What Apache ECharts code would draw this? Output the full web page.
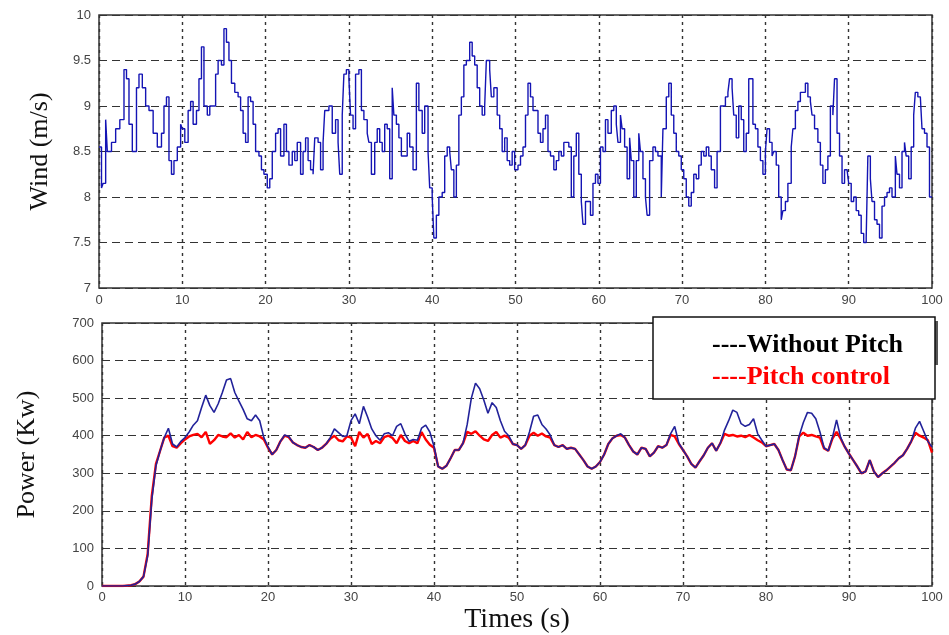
<!DOCTYPE html>
<html>
<head>
<meta charset="utf-8">
<script src="https://cdn.jsdelivr.net/npm/echarts@6/dist/echarts.min.js"></script>
<style>
  * { margin: 0; padding: 0; }
  body { background: #fff; }
  #chart { width: 949px; height: 635px; }
</style>
</head>
<body>
<div id="chart"></div>
<script>
// wind speed (m/s), [time s, value]
const windData = [
  [0, 8.55], [0.3, 8.1], [0.5, 8.15], [0.8, 8.85], [1.0, 8.5], [1.5, 8.6], [2.0, 8.75], [2.5, 8.85], [3.0, 9.4], [3.3, 9.3],
  [3.6, 8.8], [4.0, 8.5], [4.5, 9.2], [4.8, 9.35], [5.2, 9.2], [5.6, 9.0], [6.0, 8.95], [6.5, 8.7], [7.0, 8.55], [7.5, 8.7],
  [7.8, 9.0], [8.1, 9.1], [8.4, 8.4], [8.7, 8.25], [9.0, 8.4], [9.4, 8.55], [9.8, 8.8], [10.0, 8.75], [10.3, 8.6], [10.7, 8.95],
  [11.0, 9.05], [11.3, 8.8], [11.7, 8.95], [12.0, 9.3], [12.3, 9.65], [12.6, 9.0], [13.0, 8.9], [13.3, 9.0], [13.7, 9.0], [14.0, 9.35],
  [14.3, 9.5], [14.7, 9.45], [15.0, 9.85], [15.3, 9.7], [15.6, 9.5], [15.9, 9.25], [16.3, 9.15], [16.7, 9.1], [17.0, 8.95], [17.3, 8.7],
  [17.6, 8.6], [17.9, 9.1], [18.2, 9.05], [18.5, 8.8], [18.8, 8.5], [19.2, 8.45], [19.5, 8.3], [19.8, 8.25], [20.2, 8.1], [20.5, 8.2],
  [20.8, 8.5], [21.2, 8.7], [21.5, 8.75], [21.8, 8.45], [22.2, 8.8], [22.5, 8.5], [22.8, 8.35], [23.2, 8.5], [23.5, 8.4], [23.8, 8.6],
  [24.2, 8.25], [24.5, 8.5], [24.8, 8.65], [25.1, 8.4], [25.4, 8.3], [25.7, 8.25], [25.9, 8.65], [26.3, 8.6], [26.6, 8.3], [26.9, 8.6],
  [27.1, 8.95], [27.6, 9.0], [28.0, 8.7], [28.4, 8.85], [28.7, 8.6], [28.9, 8.25], [29.2, 8.9], [29.4, 9.35], [29.7, 9.4], [30.0, 9.3],
  [30.2, 8.9], [30.5, 8.75], [30.8, 9.35], [31.2, 9.4], [31.5, 8.95], [31.8, 8.85], [32.2, 8.7], [32.4, 8.6], [32.7, 8.25], [33.1, 8.6],
  [33.4, 8.75], [33.7, 8.6], [34.0, 8.5], [34.3, 8.8], [34.6, 8.75], [34.9, 8.2], [35.2, 9.2], [35.4, 8.9], [35.7, 8.8], [36.0, 8.65],
  [36.3, 8.45], [36.7, 8.45], [37.0, 8.7], [37.3, 8.55], [37.7, 8.3], [38.1, 9.25], [38.4, 8.95], [38.8, 8.7], [39.1, 9.0], [39.5, 8.5],
  [39.7, 8.1], [40.0, 8.0], [40.2, 7.55], [40.5, 7.8], [40.8, 8.0], [41.2, 8.05], [41.5, 8.45], [41.8, 8.55], [42.1, 8.5], [42.3, 8.3],
  [42.6, 8.0], [42.9, 8.35], [43.2, 8.9], [43.5, 9.1], [43.8, 9.45], [44.1, 9.5], [44.5, 9.7], [44.8, 9.55], [45.1, 9.45], [45.4, 9.2],
  [45.7, 9.0], [46.0, 8.9], [46.3, 9.0], [46.5, 9.5], [46.9, 9.4], [47.1, 9.1], [47.4, 9.2], [47.8, 8.9], [48.1, 8.75], [48.4, 8.5],
  [48.7, 8.65], [49.0, 8.4], [49.3, 8.35], [49.6, 8.5], [49.9, 8.3], [50.3, 8.35], [50.6, 8.45], [50.9, 8.55], [51.2, 8.9], [51.5, 9.25],
  [51.8, 9.1], [52.1, 8.95], [52.4, 8.95], [52.7, 8.7], [53.0, 8.6], [53.3, 8.75], [53.6, 8.9], [53.9, 8.5], [54.2, 8.45], [54.6, 8.3],
  [54.9, 8.4], [55.2, 8.5], [55.5, 8.45], [55.8, 8.6], [56.1, 8.6], [56.4, 8.55], [56.7, 8.0], [57.0, 8.45], [57.3, 8.7], [57.6, 8.25],
  [57.9, 7.95], [58.1, 7.7], [58.4, 7.95], [58.7, 7.95], [59.0, 7.8], [59.3, 8.15], [59.6, 8.25], [59.9, 8.15], [60.2, 8.55], [60.5, 8.5],
  [60.8, 8.85], [61.1, 8.7], [61.5, 8.95], [61.8, 9.0], [62.1, 8.8], [62.3, 8.6], [62.6, 8.9], [62.8, 8.75], [63.1, 8.55], [63.4, 8.2],
  [63.7, 8.65], [63.9, 8.4], [64.2, 8.0], [64.5, 8.4], [64.8, 8.7], [65.0, 8.5], [65.3, 8.2], [65.6, 8.0], [65.8, 7.8], [66.1, 8.4],
  [66.5, 8.55], [66.8, 8.5], [67.1, 8.45], [67.5, 8.0], [67.7, 8.75], [68.1, 9.1], [68.4, 9.25], [68.7, 8.9], [69.0, 8.7], [69.3, 8.5],
  [69.6, 8.45], [69.9, 8.3], [70.2, 8.2], [70.5, 8.0], [70.8, 7.9], [71.1, 8.05], [71.4, 8.25], [71.7, 8.2], [72.0, 8.35], [72.3, 8.5],
  [72.6, 8.45], [72.9, 8.55], [73.2, 8.45], [73.5, 8.3], [73.9, 8.1], [74.2, 8.5], [74.6, 9.0], [74.9, 9.0], [75.2, 9.1], [75.5, 9.15],
  [75.7, 9.3], [76.0, 9.2], [76.2, 8.9], [76.5, 8.65], [76.8, 9.0], [77.1, 8.85], [77.4, 8.5], [77.7, 8.7], [78.0, 9.3], [78.2, 9.3],
  [78.5, 8.8], [78.8, 8.75], [79.1, 8.55], [79.4, 8.4], [79.7, 8.25], [80.0, 8.5], [80.2, 8.75], [80.5, 8.6], [80.8, 8.45], [81.0, 8.5],
  [81.3, 8.35], [81.6, 8.0], [81.9, 7.75], [82.1, 7.85], [82.4, 7.95], [82.7, 8.15], [83.1, 8.55], [83.3, 8.75], [83.6, 8.95], [83.9, 9.05],
  [84.2, 9.15], [84.4, 9.15], [84.8, 9.25], [85.1, 9.1], [85.4, 9.05], [85.6, 8.9], [85.9, 8.75], [86.3, 8.6], [86.6, 8.35], [86.9, 8.15],
  [87.2, 8.3], [87.5, 8.45], [87.8, 9.0], [88.1, 8.9], [88.3, 9.3], [88.6, 8.7], [88.9, 8.45], [89.2, 8.15], [89.5, 8.3], [89.8, 8.3],
  [90.0, 8.15], [90.3, 7.95], [90.6, 8.0], [90.9, 7.85], [91.2, 7.8], [91.5, 7.6], [91.8, 7.5], [92.1, 7.55], [92.3, 8.45], [92.6, 8.2],
  [92.8, 7.95], [93.1, 7.75], [93.4, 7.7], [93.7, 7.55], [94.0, 7.9], [94.3, 8.0], [94.6, 8.05], [94.9, 8.1], [95.2, 8.0], [95.6, 8.45],
  [95.8, 8.25], [96.1, 8.1], [96.4, 8.5], [96.7, 8.6], [96.9, 8.45], [97.2, 8.2], [97.5, 8.55], [97.8, 8.9], [98.0, 9.15], [98.3, 9.1],
  [98.6, 9.1], [98.8, 8.75], [99.1, 8.7], [99.4, 8.55], [99.7, 8.0], [100, 8.0]
];

// power (kW), one value every 0.5 s from 0 to 100 s
const powerStep = 0.5;
const powerNoPitch = [
  0, 0, 0, 0, 0, 0, 1, 2, 5, 12,
  25, 80, 230, 320, 360, 395, 420, 378, 370, 385,
  395, 410, 428, 440, 475, 508, 480, 462, 485, 515,
  548, 552, 515, 492, 470, 445, 440, 455, 440, 395,
  370, 350, 362, 385, 402, 398, 382, 375, 370, 368,
  375, 370, 362, 368, 378, 395, 418, 408, 398, 400,
  440, 458, 432, 478, 450, 418, 400, 388, 405, 408,
  400, 425, 432, 405, 385, 390, 388, 420, 428, 410,
  372, 318, 312, 320, 340, 362, 362, 380, 430, 500,
  540, 525, 495, 460, 488, 475, 440, 412, 400, 378,
  375, 365, 375, 410, 452, 455, 430, 418, 402, 375,
  370, 375, 365, 368, 365, 350, 335, 318, 312, 318,
  330, 350, 378, 393, 400, 405, 395, 375, 358, 350,
  368, 365, 345, 355, 372, 368, 375, 405, 425, 380,
  362, 345, 325, 315, 332, 348, 368, 380, 360, 380,
  415, 440, 468, 462, 432, 425, 430, 445, 405, 388,
  372, 375, 378, 362, 335, 310, 308, 345, 400, 435,
  462, 460, 445, 410, 368, 360, 395, 442, 395, 370,
  352, 335, 318, 300, 305, 335, 305, 290, 300, 308,
  318, 328, 340, 348, 365, 385, 420, 438, 412, 385,
  370
];
const powerPitch = [
  0, 0, 0, 0, 0, 0, 1, 2, 5, 12,
  25, 85, 240, 325, 360, 395, 400, 372, 368, 380,
  390, 398, 402, 405, 396, 410, 378, 388, 402, 398,
  396, 406, 395, 402, 390, 410, 396, 402, 398, 390,
  368, 350, 362, 385, 400, 396, 382, 375, 370, 368,
  375, 370, 362, 368, 378, 392, 400, 388, 385, 398,
  395, 372, 410, 395, 405, 378, 386, 380, 396, 400,
  394, 380, 402, 386, 380, 386, 380, 410, 390, 376,
  368, 318, 312, 320, 340, 362, 362, 380, 410, 405,
  412, 400, 390, 386, 402, 410, 395, 400, 395, 378,
  375, 365, 375, 400, 408, 400, 406, 398, 395, 375,
  370, 375, 365, 368, 365, 350, 335, 318, 312, 318,
  330, 350, 378, 393, 400, 402, 395, 375, 358, 350,
  368, 365, 345, 355, 372, 368, 375, 402, 398, 378,
  362, 345, 325, 315, 332, 348, 368, 380, 360, 380,
  405, 400, 402, 398, 400, 396, 402, 395, 388, 382,
  372, 375, 378, 362, 335, 310, 308, 345, 398, 408,
  400, 402, 398, 395, 366, 360, 392, 410, 392, 370,
  352, 335, 318, 300, 305, 335, 305, 290, 300, 308,
  318, 328, 340, 348, 365, 385, 408, 400, 395, 388,
  355
];

const legendLines = ['----Without Pitch', '----Pitch control'];

const withTime = arr => arr.map((v, i) => [i * powerStep, v]);

const tickFont = { color: '#444', fontSize: 13, fontFamily: 'Liberation Sans, Arial, sans-serif' };
const nameFont = { color: '#111', fontSize: 26, fontFamily: 'Liberation Serif, Times New Roman, serif' };
const hDash = { show: true, lineStyle: { color: '#333', width: 1.2, type: [8, 5] } };
const vDash = { show: true, lineStyle: { color: '#333', width: 1.4, type: [3, 4] } };

const chart = echarts.init(document.getElementById('chart'));

chart.setOption({
  animation: false,
  backgroundColor: '#fff',
  grid: [
    { left: 99, right: 17, top: 15, height: 273, show: true, borderColor: '#333', borderWidth: 1.5, backgroundColor: 'transparent' },
    { left: 102, right: 17, top: 323, height: 263, show: true, borderColor: '#333', borderWidth: 1.5, backgroundColor: 'transparent' }
  ],
  xAxis: [
    {
      gridIndex: 0, type: 'value', min: 0, max: 100, interval: 10,
      axisLine: { show: false }, axisTick: { show: false },
      axisLabel: Object.assign({ margin: 6 }, tickFont),
      splitLine: vDash
    },
    {
      gridIndex: 1, type: 'value', min: 0, max: 100, interval: 10,
      axisLine: { show: false }, axisTick: { show: false },
      axisLabel: Object.assign({ margin: 5 }, tickFont),
      splitLine: vDash,
      name: 'Times (s)', nameLocation: 'middle', nameGap: 20,
      nameTextStyle: Object.assign({}, nameFont, { fontSize: 28 })
    }
  ],
  yAxis: [
    {
      gridIndex: 0, type: 'value', min: 7, max: 10, interval: 0.5,
      axisLine: { show: false }, axisTick: { show: false },
      axisLabel: Object.assign({ margin: 8 }, tickFont),
      splitLine: hDash,
      name: 'Wind (m/s)', nameLocation: 'middle', nameGap: 46,
      nameTextStyle: Object.assign({}, nameFont, { padding: [0, 0, 0, 0] })
    },
    {
      gridIndex: 1, type: 'value', min: 0, max: 700, interval: 100,
      axisLine: { show: false }, axisTick: { show: false },
      axisLabel: Object.assign({ margin: 8 }, tickFont),
      splitLine: hDash,
      name: 'Power (Kw)', nameLocation: 'middle', nameGap: 62,
      nameTextStyle: nameFont
    }
  ],
  series: [
    {
      type: 'line', xAxisIndex: 0, yAxisIndex: 0, step: 'end',
      data: windData, symbol: 'none',
      lineStyle: { color: '#1414b4', width: 1.4 }
    },
    {
      type: 'line', xAxisIndex: 1, yAxisIndex: 1,
      data: withTime(powerPitch), symbol: 'none',
      lineStyle: { color: '#ff0000', width: 2.4 }
    },
    {
      type: 'line', xAxisIndex: 1, yAxisIndex: 1,
      data: withTime(powerNoPitch), symbol: 'none',
      lineStyle: { color: '#22229a', width: 1.6 }
    }
  ],
  graphic: [
    { type: 'rect', shape: { x: 935, y: 321, width: 3, height: 44 }, style: { fill: '#555' }, z: 100 },
    { type: 'rect', shape: { x: 653, y: 317, width: 282, height: 82 }, style: { fill: '#fff', stroke: '#111', lineWidth: 1.5 }, z: 101 },
    {
      type: 'text', x: 712, y: 345, z: 102,
      style: { text: legendLines[0], fill: '#000', font: 'bold 26px "Liberation Serif", serif', verticalAlign: 'middle' }
    },
    {
      type: 'text', x: 712, y: 377, z: 102,
      style: { text: legendLines[1], fill: '#ff0000', font: 'bold 26px "Liberation Serif", serif', verticalAlign: 'middle' }
    }
  ]
});
</script>
</body>
</html>
